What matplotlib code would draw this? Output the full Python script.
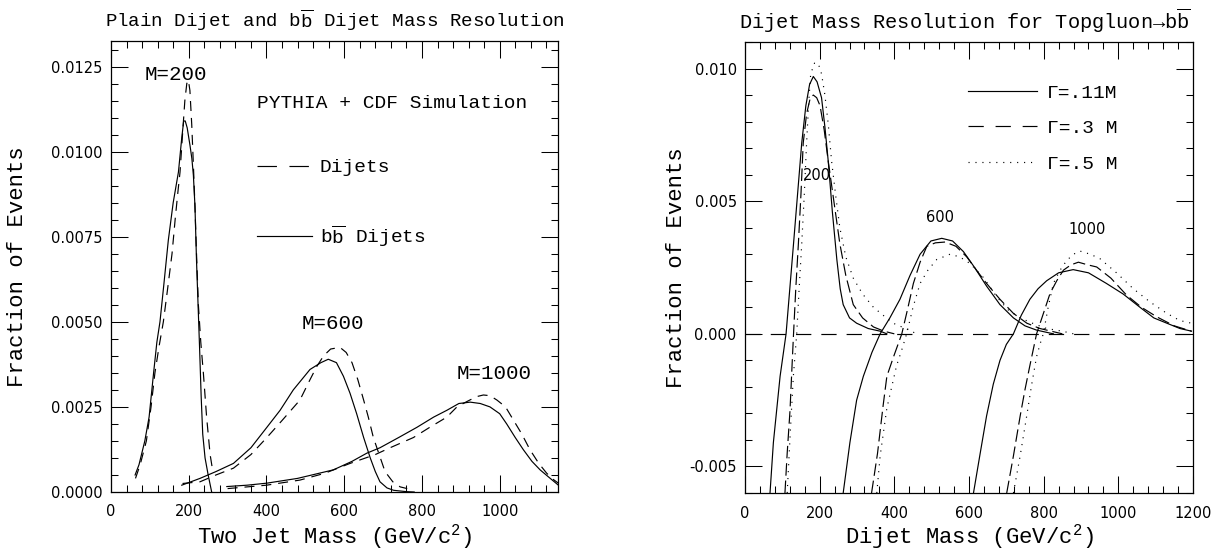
import numpy as np
import matplotlib
matplotlib.use('Agg')
import matplotlib.pyplot as plt
from matplotlib.ticker import MultipleLocator, FormatStrFormatter
from matplotlib.lines import Line2D

plt.rcParams['font.family'] = 'DejaVu Sans'
plt.rcParams['axes.unicode_minus'] = False
plt.rcParams['lines.scale_dashes'] = False
plt.rcParams['mathtext.fontset'] = 'custom'
plt.rcParams['mathtext.rm'] = 'Liberation Mono'
plt.rcParams['mathtext.it'] = 'Liberation Mono'
plt.rcParams['mathtext.bf'] = 'Liberation Mono'

SERIF = ['Liberation Mono', 'DejaVu Sans Mono']

# ---------------- Left panel data (Two Jet Mass, Fraction of Events) ----------------
l200_bb_x = [62, 72, 87, 98, 109.6, 118, 126, 136, 147.5, 160, 173.5, 182, 187, 191, 196, 203, 208,
             212, 216, 220, 224, 228, 232, 236, 242, 250, 259]
l200_bb_y = [0.0005, 0.0008, 0.0015, 0.0022, 0.0035, 0.0044, 0.0050, 0.0061, 0.0074, 0.0085, 0.0094,
             0.0104, 0.0109, 0.0109, 0.0107, 0.0102, 0.0098, 0.0093, 0.0084, 0.0068, 0.0055, 0.0042,
             0.0028, 0.0017, 0.0010, 0.0005, 0.0]
l200_dj_x = [63, 75, 91, 103, 113, 124, 134.7, 146, 157, 165, 172, 177.6, 184, 190, 195, 199, 203,
             207.7, 212, 216, 220, 224.8, 231, 237.6, 246, 255, 262]
l200_dj_y = [0.0004, 0.0008, 0.0015, 0.0025, 0.0035, 0.0043, 0.0050, 0.0060, 0.0070, 0.0080, 0.0088,
             0.0094, 0.0105, 0.0115, 0.0120, 0.0121, 0.0118, 0.0108, 0.0096, 0.0084, 0.0070, 0.0055,
             0.0044, 0.0035, 0.0022, 0.0011, 0.0006]
l600_bb_x = [182, 229, 270, 315, 360, 401, 435, 469, 512, 540, 559, 580, 598, 615, 632, 650, 667, 680,
             692, 710, 727, 760, 780]
l600_bb_y = [0.0002, 0.0004, 0.0006, 0.00084, 0.0013, 0.0019, 0.0024, 0.0030, 0.0036, 0.0038, 0.0039,
             0.0038, 0.0034, 0.0029, 0.0023, 0.0016, 0.0010, 0.0006, 0.0003, 0.00012, 0.00005, 0.00001, 0.0]
l600_dj_x = [184, 229, 270, 315, 360, 401, 440, 486, 512, 530, 547, 565, 589, 605, 620, 635, 650, 662,
             675, 690, 705, 725, 744, 762]
l600_dj_y = [0.00025, 0.0003, 0.0005, 0.0007, 0.0011, 0.0016, 0.0021, 0.0027, 0.0033, 0.0037, 0.0040,
             0.0042, 0.00425, 0.0041, 0.0038, 0.0033, 0.0027, 0.0022, 0.0016, 0.0011, 0.0006, 0.0003,
             0.00015, 0.0001]
l1000_bb_x = [298, 350, 401, 480, 572, 620, 658, 692, 740, 787, 830, 864, 895, 924, 950, 975, 1000,
              1018, 1040, 1061, 1083, 1104, 1130, 1151]
l1000_bb_y = [0.00016, 0.0002, 0.00026, 0.0004, 0.00065, 0.0009, 0.00114, 0.0013, 0.0016, 0.0019,
              0.0022, 0.0024, 0.0026, 0.00264, 0.0026, 0.0025, 0.0023, 0.0020, 0.0016, 0.00124, 0.0009,
              0.00065, 0.0004, 0.0002]
l1000_dj_x = [300, 400, 486, 550, 615, 680, 718, 778, 820, 864, 890, 916, 940, 958, 975, 993, 1015,
              1036, 1057, 1078, 1100, 1121, 1140, 1151]
l1000_dj_y = [0.0001, 0.0002, 0.00035, 0.00055, 0.00084, 0.0011, 0.0013, 0.0016, 0.0019, 0.0022,
              0.0025, 0.00266, 0.0028, 0.00285, 0.00283, 0.0027, 0.0025, 0.0021, 0.0017, 0.00124,
              0.00085, 0.00055, 0.00035, 0.00026]

left_labels = ['M=200', 'M=600', 'M=1000']
left_label_x = [167, 571, 986]
left_label_y = [0.01228, 0.00496, 0.00347]

# ---------------- Right panel data (Topgluon -> bb) ----------------
r200_g11_x = [67, 76, 94, 110, 120, 130, 141, 152, 163, 173, 183, 193, 205, 214, 223, 234, 246, 255,
              263, 280, 299, 330, 362, 380]
r200_g11_y = [-0.006, -0.0041, -0.0016, 0.0, 0.0017, 0.0034, 0.0053, 0.0072, 0.0086, 0.0094, 0.0097,
              0.0095, 0.0089, 0.0078, 0.0065, 0.0046, 0.0028, 0.0017, 0.0011, 0.0006, 0.0004, 0.0002,
              0.0001, 0.0]
r200_g3_x = [107, 113, 120.5, 126, 130, 136, 143, 150, 156, 165, 175, 183, 192, 201, 212, 223, 238, 254,
             270, 290, 315, 344, 372, 400]
r200_g3_y = [-0.006, -0.0045, -0.0029, -0.0012, 0.0, 0.0017, 0.0034, 0.0053, 0.0072, 0.0083, 0.0089,
             0.0090, 0.0089, 0.0086, 0.0077, 0.0065, 0.0050, 0.0034, 0.0022, 0.0011, 0.0006, 0.00026,
             0.0001, 0.0]
r200_g5_x = [113, 121, 129.5, 138.5, 145, 152, 159, 165, 171, 176, 186, 196, 205, 214, 223, 232, 243,
             254, 270, 290, 315, 344, 370, 397, 430, 460]
r200_g5_y = [-0.006, -0.0038, -0.0016, 0.0, 0.0017, 0.0034, 0.0053, 0.0072, 0.0088, 0.0098, 0.0102,
             0.0102, 0.0098, 0.0090, 0.0079, 0.0065, 0.0052, 0.0040, 0.0029, 0.0021, 0.0015, 0.0010,
             0.0007, 0.0004, 0.0002, 0.0]
r600_g11_x = [263, 281, 299, 317, 340, 362, 388, 415, 442, 469, 498, 527, 556, 585, 615, 647, 683, 719,
              750, 781, 826]
r600_g11_y = [-0.006, -0.0041, -0.0025, -0.0016, -0.0007, 0.0, 0.0006, 0.0013, 0.0022, 0.0030, 0.0035,
              0.0036, 0.0035, 0.0031, 0.0025, 0.0018, 0.0011, 0.0006, 0.0003, 0.00014, 0.0]
r600_g3_x = [339, 355, 370, 380, 397, 420, 435, 451, 469, 487, 510, 536, 565, 594, 620, 647, 683, 719,
             755, 790, 850]
r600_g3_y = [-0.006, -0.0045, -0.0027, -0.0016, -0.0009, 0.0, 0.0009, 0.0019, 0.0027, 0.0033, 0.00343,
             0.00346, 0.0033, 0.0029, 0.0024, 0.0019, 0.0013, 0.00077, 0.0004, 0.0002, 0.0]
r600_g5_x = [353, 362, 380, 406, 420, 433, 450, 469, 490, 513.5, 549, 575, 603, 640, 674, 705, 737,
             770, 808, 850, 880]
r600_g5_y = [-0.006, -0.0046, -0.0028, -0.0012, -0.0006, 0.0, 0.0010, 0.0019, 0.0024, 0.0028, 0.0030,
             0.0029, 0.00265, 0.0021, 0.0014, 0.0009, 0.0006, 0.0004, 0.0002, 0.0001, 0.0]
r1000_g11_x = [612, 630, 647, 665, 683, 700, 719, 740, 763, 785, 808, 840, 879, 920, 968, 1013, 1058,
               1095, 1130, 1165, 1196]
r1000_g11_y = [-0.006, -0.0045, -0.0031, -0.0019, -0.0010, -0.0004, 0.0, 0.0007, 0.0013, 0.0017,
               0.0020, 0.0023, 0.00242, 0.0023, 0.0019, 0.0015, 0.0010, 0.0006, 0.0004, 0.0002, 0.0001]
r1000_g3_x = [701, 719, 737, 750, 763, 781, 800, 817, 835, 853, 873, 893, 918, 942, 980, 1022, 1062,
              1103, 1150, 1196]
r1000_g3_y = [-0.006, -0.0046, -0.0031, -0.0021, -0.0012, 0.0, 0.0008, 0.00152, 0.0020, 0.0024, 0.0026,
              0.0027, 0.0026, 0.00252, 0.0021, 0.00146, 0.0010, 0.00064, 0.0003, 0.0001]
r1000_g5_x = [719, 737, 754.5, 768, 781, 790, 799, 812, 826, 844, 862, 880, 897, 925, 951, 995, 1040,
              1085, 1130, 1165, 1196]
r1000_g5_y = [-0.006, -0.0046, -0.0031, -0.0019, -0.00086, -0.0004, 0.0, 0.0010, 0.0019, 0.0024,
              0.00277, 0.0030, 0.00312, 0.0030, 0.00283, 0.0023, 0.0017, 0.0012, 0.00077, 0.0005, 0.0004]

right_labels = ['200', '600', '1000']
right_label_x = [192, 522, 916]
right_label_y = [0.00597, 0.0044, 0.00392]

LW = 0.85
DASH_L = (7.2, 5)
DASH_L_LEG = (14, 9)
DASH_R = (9, 3.5)
DASH_R_LEG = (11, 8.5)
DASH_ZERO = (11, 7.2)
DOT = (0.8, 4.2)

fig = plt.figure(figsize=(12.18, 5.52), dpi=100)
axL = fig.add_axes([0.09113, 0.10870, 0.36700, 0.81703])
axR = fig.add_axes([0.61166, 0.10688, 0.36782, 0.81703])


def style(ax):
    ax.tick_params(which='both', direction='in', top=True, right=True, width=0.75,
                   colors='black', labelsize=10.5)
    ax.tick_params(which='major', length=12.5)
    ax.tick_params(which='minor', length=4.7)
    ax.tick_params(axis='x', which='both', pad=9)
    ax.tick_params(axis='y', which='both', pad=6)
    for s in ax.spines.values():
        s.set_linewidth(0.9)


# ---- Left panel ----
axL.plot(l200_bb_x, l200_bb_y, color='k', lw=LW)
axL.plot(l200_dj_x, l200_dj_y, color='k', lw=LW, dashes=DASH_L)
axL.plot(l600_bb_x, l600_bb_y, color='k', lw=LW)
axL.plot(l600_dj_x, l600_dj_y, color='k', lw=LW, dashes=DASH_L)
axL.plot(l1000_bb_x, l1000_bb_y, color='k', lw=LW)
axL.plot(l1000_dj_x, l1000_dj_y, color='k', lw=LW, dashes=DASH_L)
for t, x, y in zip(left_labels, left_label_x, left_label_y):
    axL.text(x, y, t, family=SERIF, fontsize=15, ha='center', va='center')

axL.set_xlim(0, 1150)
axL.set_ylim(0, 0.01325)
axL.xaxis.set_major_locator(MultipleLocator(200))
axL.xaxis.set_minor_locator(MultipleLocator(40))
axL.yaxis.set_major_locator(MultipleLocator(0.0025))
axL.yaxis.set_minor_locator(MultipleLocator(0.0005))
axL.yaxis.set_major_formatter(FormatStrFormatter('%.4f'))
style(axL)
axL.set_xlabel('Two Jet Mass (GeV/c$^{2}$)', family=SERIF, fontsize=16, va='baseline')
axL.set_ylabel('Fraction of Events', family=SERIF, fontsize=16)
axL.xaxis.set_label_coords(0.5, -0.115)
axL.yaxis.set_label_coords(-0.186, 0.5)
axL.text(0.5, 1.047, r'Plain Dijet and $\mathrm{b\overline{b}}$ Dijet Mass Resolution',
         transform=axL.transAxes, family=SERIF, fontsize=13.8, ha='center', va='center')

hL = [Line2D([], [], color='k', lw=LW, dashes=DASH_L_LEG), Line2D([], [], color='k', lw=LW)]
legL = axL.legend(hL, ['Dijets', r'$\mathrm{b\overline{b}}$ Dijets'],
                  title='PYTHIA + CDF Simulation', loc='upper left',
                  bbox_to_anchor=(0.3266, 0.88), frameon=False,
                  prop={'family': SERIF, 'size': 14},
                  title_fontproperties={'family': SERIF, 'size': 14},
                  alignment='left', borderpad=0, borderaxespad=0,
                  handlelength=2.83, handletextpad=0.4, labelspacing=2.4)

# ---- Right panel ----
axR.axhline(0.0, color='k', lw=LW, dashes=DASH_ZERO)
axR.plot(r200_g11_x, r200_g11_y, color='k', lw=LW)
axR.plot(r200_g3_x, r200_g3_y, color='k', lw=LW, dashes=DASH_R)
axR.plot(r200_g5_x, r200_g5_y, color='k', lw=LW, dashes=DOT)
axR.plot(r600_g11_x, r600_g11_y, color='k', lw=LW)
axR.plot(r600_g3_x, r600_g3_y, color='k', lw=LW, dashes=DASH_R)
axR.plot(r600_g5_x, r600_g5_y, color='k', lw=LW, dashes=DOT)
axR.plot(r1000_g11_x, r1000_g11_y, color='k', lw=LW)
axR.plot(r1000_g3_x, r1000_g3_y, color='k', lw=LW, dashes=DASH_R)
axR.plot(r1000_g5_x, r1000_g5_y, color='k', lw=LW, dashes=DOT)
for t, x, y in zip(right_labels, right_label_x, right_label_y):
    axR.text(x, y, t, fontsize=10.5, ha='center', va='center')

axR.set_xlim(0, 1200)
axR.set_ylim(-0.006, 0.011)
axR.xaxis.set_major_locator(MultipleLocator(200))
axR.xaxis.set_minor_locator(MultipleLocator(40))
axR.yaxis.set_major_locator(MultipleLocator(0.005))
axR.yaxis.set_minor_locator(MultipleLocator(0.001))
axR.yaxis.set_major_formatter(FormatStrFormatter('%.3f'))
style(axR)
axR.set_xlabel('Dijet Mass (GeV/c$^{2}$)', family=SERIF, fontsize=16, va='baseline')
axR.set_ylabel('Fraction of Events', family=SERIF, fontsize=16)
axR.xaxis.set_label_coords(0.5, -0.113)
axR.yaxis.set_label_coords(-0.13, 0.5)
axR.text(0.49, 1.047, r'Dijet Mass Resolution for Topgluon→$\mathrm{b\overline{b}}$',
         transform=axR.transAxes, family=SERIF, fontsize=14.6, ha='center', va='center')

hR = [Line2D([], [], color='k', lw=LW), Line2D([], [], color='k', lw=LW, dashes=DASH_R_LEG),
      Line2D([], [], color='k', lw=LW, dashes=DOT)]
axR.legend(hR, ['Γ=.11M', 'Γ=.3 M', 'Γ=.5 M'], loc='upper left',
           bbox_to_anchor=(0.4978, 0.907), frameon=False,
           prop={'family': SERIF, 'size': 14}, borderpad=0, borderaxespad=0,
           handlelength=3.55, handletextpad=0.5, labelspacing=0.93)

fig.savefig('out.png', dpi=100)
